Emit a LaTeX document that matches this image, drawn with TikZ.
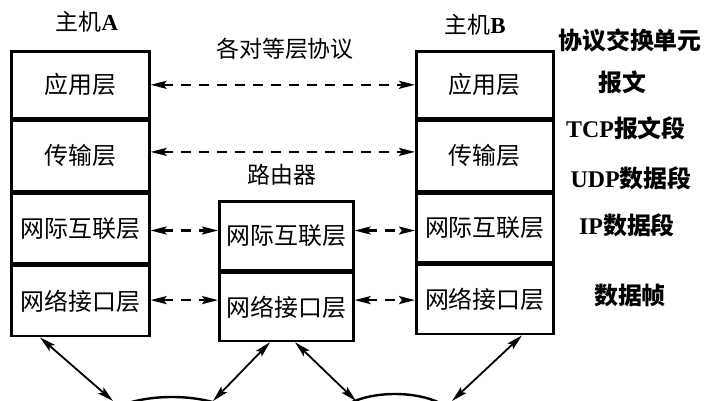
\documentclass[tikz,border=0pt]{standalone}
\usepackage{fontspec}
\setmainfont{Noto Sans CJK SC}
\newfontfamily\latfont{Liberation Serif}
\usetikzlibrary{arrows.meta,calc,shapes.geometric}
\begin{document}
\begin{tikzpicture}[x=1bp,y=-1bp,
  layer/.style={draw, line width=2.6bp, minimum width=138bp, inner sep=0pt, anchor=north west, font=\fontsize{24}{26}\selectfont},
  peer/.style={line width=2.2bp, dash pattern=on 10bp off 8bp, {Stealth[length=16bp,width=8bp,inset=3bp]}-{Stealth[length=16bp,width=8bp,inset=3bp]}},
  link/.style={line width=1.8bp, {Stealth[length=16bp,width=8bp,inset=3bp]}-{Stealth[length=16bp,width=8bp,inset=3bp]}},
  lbl/.style={font=\fontsize{23}{25}\selectfont},
  unit/.style={font=\fontsize{24}{26}\selectfont\bfseries},
  cloud/.style={draw, ellipse, line width=2.4bp}]
\useasboundingbox (0,0) rectangle (722,400);
\clip (0,0) rectangle (722,400);

% Host A
\node[layer, minimum height=67bp] (Aapp) at (10,50) {应用层};
\node[layer, minimum height=70bp] (Atr) at (Aapp.south west) {传输层};
\node[layer, minimum height=70bp] (Ain) at (Atr.south west) {网际互联层};
\node[layer, minimum height=70bp] (Anet) at (Ain.south west) {网络接口层};

% Router
\node[layer, minimum width=134bp, minimum height=69bp] (Rin) at (218,200) {网际互联层};
\node[layer, minimum width=134bp, minimum height=68bp] (Rnet) at (Rin.south west) {网络接口层};

% Host B
\node[layer, minimum width=137bp, minimum height=67bp] (Bapp) at (415,50) {应用层};
\node[layer, minimum width=137bp, minimum height=70bp] (Btr) at (Bapp.south west) {传输层};
\node[layer, minimum width=137bp, minimum height=69bp] (Bin) at (Btr.south west) {网际互联层};
\node[layer, minimum width=137bp, minimum height=69bp] (Bnet) at (Bin.south west) {网络接口层};

% titles
\node[lbl] (tA) at (87,22) {主机{\latfont\bfseries A}};
\node[lbl] (tB) at (475,25) {主机{\latfont\bfseries B}};
\node[lbl] (tP) at (285,49) {各对等层协议};
\node[lbl] (tR) at (282,175) {路由器};

% protocol data units
\node[unit] (u0) at (630,40) {协议交换单元};
\node[unit] (u1) at (622,82) {报文};
\node[unit] (u2) at (626,128) {{\latfont TCP}报文段};
\node[unit] (u3) at (631,178) {{\latfont UDP}数据段};
\node[unit] (u4) at (627,225) {{\latfont IP}数据段};
\node[unit] (u5) at (630,295) {数据帧};

% peer protocol arrows
\draw[peer] (Aapp.east) -- (Bapp.west);
\draw[peer] ([yshift=4bp]Atr.east) -- ([yshift=4bp]Btr.west);
\draw[peer] ([yshift=-2bp]Ain.east) -- ([yshift=-2bp]Ain.east -| Rin.west);
\draw[peer] ([yshift=-2bp]Ain.east -| Rin.east) -- ([yshift=-2bp]Ain.east -| Bin.west);
\draw[peer] ([yshift=1bp]Anet.east) -- ([yshift=1bp]Anet.east -| Rnet.west);
\draw[peer] ([yshift=1bp]Anet.east -| Rnet.east) -- ([yshift=1bp]Anet.east -| Bnet.west);

% networks
\node[cloud, minimum width=146bp, minimum height=60bp] (N1) at (172,427) {};
\node[cloud, minimum width=126bp, minimum height=60bp] (N2) at (395,424) {};
\coordinate (a1) at (113,401);
\coordinate (a2) at (213,401);
\coordinate (a3) at (356,401);
\coordinate (a4) at (452,401);

\draw[link] ([xshift=30bp]Anet.south west) -- (a1);
\draw[link] ([xshift=52bp]Rnet.south west) -- (a2);
\draw[link] ([xshift=77bp]Rnet.south west) -- (a3);
\draw[link] ([xshift=107bp]Bnet.south west) -- (a4);
\end{tikzpicture}
\end{document}
